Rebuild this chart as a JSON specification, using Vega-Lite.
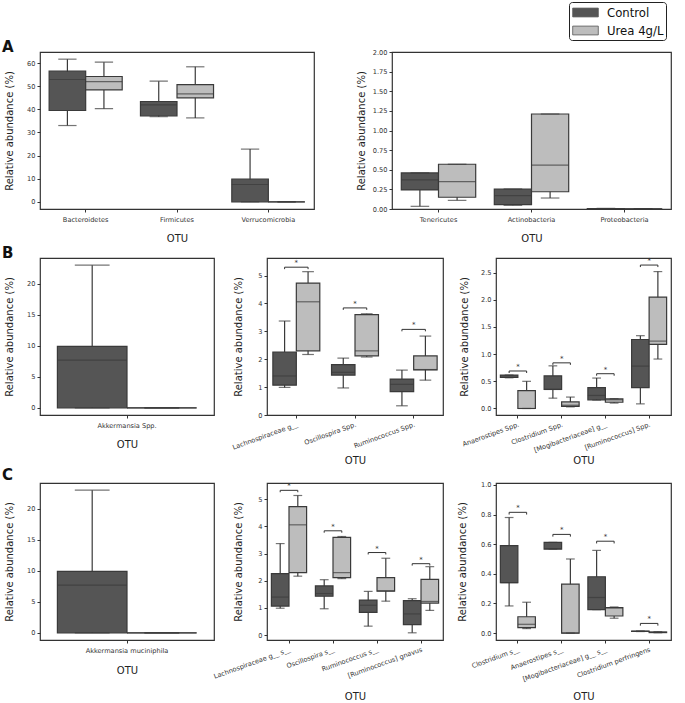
{
"$schema":"https://vega.github.io/schema/vega-lite/v6.json",
"padding":{"left":1,"top":1,"right":2,"bottom":2},
"background":"white",
"config":{
 "font":"DejaVu Sans",
 "view":{"stroke":"#333333","strokeWidth":1.2},
 "axis":{"domain":false,"grid":false,"labelOverlap":false,"tickSize":3,"tickColor":"#333333","tickWidth":1,"labelFont":"DejaVu Sans","labelFontSize":6.6,"labelColor":"#333333","labelPadding":2,"titleFont":"DejaVu Sans","titleFontSize":10,"titleFontWeight":"normal","titleColor":"#222222"},
 "legend":{"orient":"none","legendX":529,"legendY":-50,"strokeColor":"#222222","cornerRadius":3,"padding":2,"fillColor":"white","labelFont":"DejaVu Sans","labelFontSize":11.7,"labelColor":"#111111","symbolType":"M-1.6,-0.55H1.6V0.55H-1.6Z","symbolSize":256,"symbolOffset":6,"symbolStrokeWidth":0.8,"symbolStrokeColor":"#555555","rowPadding":2,"labelOffset":13},
 "title":{"anchor":"start","frame":"group","fontSize":15,"fontWeight":"bold","font":"DejaVu Sans","baseline":"alphabetic","offset":0,"dx":-38,"dy":7,"color":"#111111"}
},
"datasets":{
 "boxes":[
  {"p":"A1","otu":"Bacteroidetes","g":"Control","lo":33.0,"q1":39.5,"md":52.9,"q3":56.5,"hi":61.7},
  {"p":"A1","otu":"Bacteroidetes","g":"Urea 4g/L","lo":40.3,"q1":48.4,"md":52.0,"q3":54.2,"hi":60.4},
  {"p":"A1","otu":"Firmicutes","g":"Control","lo":36.8,"q1":37.2,"md":41.9,"q3":43.4,"hi":52.2},
  {"p":"A1","otu":"Firmicutes","g":"Urea 4g/L","lo":36.3,"q1":45.0,"md":46.7,"q3":50.7,"hi":58.4},
  {"p":"A1","otu":"Verrucomicrobia","g":"Control","lo":0,"q1":0,"md":7.5,"q3":9.8,"hi":22.8},
  {"p":"A1","otu":"Verrucomicrobia","g":"Urea 4g/L","lo":0,"q1":0,"md":0,"q3":0,"hi":0},
  {"p":"A2","otu":"Tenericutes","g":"Control","lo":0.034,"q1":0.243,"md":0.37,"q3":0.46,"hi":0.46},
  {"p":"A2","otu":"Tenericutes","g":"Urea 4g/L","lo":0.11,"q1":0.15,"md":0.35,"q3":0.57,"hi":0.57},
  {"p":"A2","otu":"Actinobacteria","g":"Control","lo":0.047,"q1":0.055,"md":0.17,"q3":0.255,"hi":0.255},
  {"p":"A2","otu":"Actinobacteria","g":"Urea 4g/L","lo":0.14,"q1":0.22,"md":0.56,"q3":1.21,"hi":1.21},
  {"p":"A2","otu":"Proteobacteria","g":"Control","lo":0.002,"q1":0.003,"md":0.004,"q3":0.006,"hi":0.008},
  {"p":"A2","otu":"Proteobacteria","g":"Urea 4g/L","lo":0.001,"q1":0.001,"md":0.002,"q3":0.003,"hi":0.004},
  {"p":"B1","otu":"Akkermansia Spp.","g":"Control","lo":0,"q1":0,"md":7.7,"q3":9.9,"hi":23.0},
  {"p":"B1","otu":"Akkermansia Spp.","g":"Urea 4g/L","lo":0,"q1":0,"md":0,"q3":0,"hi":0},
  {"p":"B2","otu":"Lachnospiraceae g__","g":"Control","lo":0.99,"q1":1.07,"md":1.40,"q3":2.26,"hi":3.37},
  {"p":"B2","otu":"Lachnospiraceae g__","g":"Urea 4g/L","lo":2.17,"q1":2.30,"md":4.06,"q3":4.73,"hi":5.14},
  {"p":"B2","otu":"Oscillospira Spp.","g":"Control","lo":0.97,"q1":1.43,"md":1.53,"q3":1.81,"hi":2.04},
  {"p":"B2","otu":"Oscillospira Spp.","g":"Urea 4g/L","lo":2.08,"q1":2.12,"md":2.30,"q3":3.60,"hi":3.63},
  {"p":"B2","otu":"Ruminococcus Spp.","g":"Control","lo":0.33,"q1":0.835,"md":1.1,"q3":1.29,"hi":1.61},
  {"p":"B2","otu":"Ruminococcus Spp.","g":"Urea 4g/L","lo":1.25,"q1":1.62,"md":1.63,"q3":2.12,"hi":2.83},
  {"p":"B3","otu":"Anaerostipes Spp.","g":"Control","lo":0.565,"q1":0.57,"md":0.575,"q3":0.615,"hi":0.615},
  {"p":"B3","otu":"Anaerostipes Spp.","g":"Urea 4g/L","lo":0,"q1":0,"md":0,"q3":0.33,"hi":0.50},
  {"p":"B3","otu":"Clostridium Spp.","g":"Control","lo":0.19,"q1":0.35,"md":0.35,"q3":0.60,"hi":0.785},
  {"p":"B3","otu":"Clostridium Spp.","g":"Urea 4g/L","lo":0.03,"q1":0.04,"md":0.06,"q3":0.12,"hi":0.21},
  {"p":"B3","otu":"[Mogibacteriaceae] g__","g":"Control","lo":0.155,"q1":0.16,"md":0.24,"q3":0.385,"hi":0.56},
  {"p":"B3","otu":"[Mogibacteriaceae] g__","g":"Urea 4g/L","lo":0.10,"q1":0.115,"md":0.16,"q3":0.175,"hi":0.18},
  {"p":"B3","otu":"[Ruminococcus] Spp.","g":"Control","lo":0.085,"q1":0.385,"md":0.78,"q3":1.27,"hi":1.34},
  {"p":"B3","otu":"[Ruminococcus] Spp.","g":"Urea 4g/L","lo":0.91,"q1":1.18,"md":1.24,"q3":2.05,"hi":2.52},
  {"p":"C1","otu":"Akkermansia muciniphila","g":"Control","lo":0,"q1":0,"md":7.7,"q3":9.9,"hi":23.0},
  {"p":"C1","otu":"Akkermansia muciniphila","g":"Urea 4g/L","lo":0,"q1":0,"md":0,"q3":0,"hi":0},
  {"p":"C2","otu":"Lachnospiraceae g__ s__","g":"Control","lo":0.99,"q1":1.07,"md":1.40,"q3":2.26,"hi":3.37},
  {"p":"C2","otu":"Lachnospiraceae g__ s__","g":"Urea 4g/L","lo":2.17,"q1":2.30,"md":4.06,"q3":4.73,"hi":5.14},
  {"p":"C2","otu":"Oscillospira s__","g":"Control","lo":0.97,"q1":1.43,"md":1.53,"q3":1.81,"hi":2.04},
  {"p":"C2","otu":"Oscillospira s__","g":"Urea 4g/L","lo":2.08,"q1":2.12,"md":2.30,"q3":3.60,"hi":3.63},
  {"p":"C2","otu":"Ruminococcus s__","g":"Control","lo":0.33,"q1":0.835,"md":1.1,"q3":1.29,"hi":1.61},
  {"p":"C2","otu":"Ruminococcus s__","g":"Urea 4g/L","lo":1.25,"q1":1.62,"md":1.63,"q3":2.12,"hi":2.83},
  {"p":"C2","otu":"[Ruminococcus] gnavus","g":"Control","lo":0.085,"q1":0.385,"md":0.78,"q3":1.27,"hi":1.34},
  {"p":"C2","otu":"[Ruminococcus] gnavus","g":"Urea 4g/L","lo":0.91,"q1":1.18,"md":1.24,"q3":2.05,"hi":2.52},
  {"p":"C3","otu":"Clostridium s__","g":"Control","lo":0.183,"q1":0.34,"md":0.34,"q3":0.59,"hi":0.78},
  {"p":"C3","otu":"Clostridium s__","g":"Urea 4g/L","lo":0.03,"q1":0.036,"md":0.059,"q3":0.11,"hi":0.208},
  {"p":"C3","otu":"Anaerostipes s__","g":"Control","lo":0.567,"q1":0.567,"md":0.57,"q3":0.612,"hi":0.612},
  {"p":"C3","otu":"Anaerostipes s__","g":"Urea 4g/L","lo":0,"q1":0,"md":0,"q3":0.33,"hi":0.50},
  {"p":"C3","otu":"[Mogibacteriaceae] g__ s__","g":"Control","lo":0.158,"q1":0.158,"md":0.24,"q3":0.38,"hi":0.558},
  {"p":"C3","otu":"[Mogibacteriaceae] g__ s__","g":"Urea 4g/L","lo":0.10,"q1":0.115,"md":0.17,"q3":0.172,"hi":0.176},
  {"p":"C3","otu":"Clostridium perfringens","g":"Control","lo":0.010,"q1":0.011,"md":0.012,"q3":0.013,"hi":0.014},
  {"p":"C3","otu":"Clostridium perfringens","g":"Urea 4g/L","lo":0.002,"q1":0.003,"md":0.005,"q3":0.007,"hi":0.009}
 ],
 "sig":[
  {"p":"B2","otu":"Lachnospiraceae g__","g":"Control","y":5.23,"o":1},
  {"p":"B2","otu":"Lachnospiraceae g__","g":"Control","y":5.3,"o":2},
  {"p":"B2","otu":"Lachnospiraceae g__","g":"Urea 4g/L","y":5.3,"o":3},
  {"p":"B2","otu":"Lachnospiraceae g__","g":"Urea 4g/L","y":5.23,"o":4},
  {"p":"B2","otu":"Oscillospira Spp.","g":"Control","y":3.77,"o":1},
  {"p":"B2","otu":"Oscillospira Spp.","g":"Control","y":3.84,"o":2},
  {"p":"B2","otu":"Oscillospira Spp.","g":"Urea 4g/L","y":3.84,"o":3},
  {"p":"B2","otu":"Oscillospira Spp.","g":"Urea 4g/L","y":3.77,"o":4},
  {"p":"B2","otu":"Ruminococcus Spp.","g":"Control","y":3.0,"o":1},
  {"p":"B2","otu":"Ruminococcus Spp.","g":"Control","y":3.07,"o":2},
  {"p":"B2","otu":"Ruminococcus Spp.","g":"Urea 4g/L","y":3.07,"o":3},
  {"p":"B2","otu":"Ruminococcus Spp.","g":"Urea 4g/L","y":3.0,"o":4},
  {"p":"B3","otu":"Anaerostipes Spp.","g":"Control","y":0.653,"o":1},
  {"p":"B3","otu":"Anaerostipes Spp.","g":"Control","y":0.69,"o":2},
  {"p":"B3","otu":"Anaerostipes Spp.","g":"Urea 4g/L","y":0.69,"o":3},
  {"p":"B3","otu":"Anaerostipes Spp.","g":"Urea 4g/L","y":0.653,"o":4},
  {"p":"B3","otu":"Clostridium Spp.","g":"Control","y":0.803,"o":1},
  {"p":"B3","otu":"Clostridium Spp.","g":"Control","y":0.84,"o":2},
  {"p":"B3","otu":"Clostridium Spp.","g":"Urea 4g/L","y":0.84,"o":3},
  {"p":"B3","otu":"Clostridium Spp.","g":"Urea 4g/L","y":0.803,"o":4},
  {"p":"B3","otu":"[Mogibacteriaceae] g__","g":"Control","y":0.603,"o":1},
  {"p":"B3","otu":"[Mogibacteriaceae] g__","g":"Control","y":0.64,"o":2},
  {"p":"B3","otu":"[Mogibacteriaceae] g__","g":"Urea 4g/L","y":0.64,"o":3},
  {"p":"B3","otu":"[Mogibacteriaceae] g__","g":"Urea 4g/L","y":0.603,"o":4},
  {"p":"B3","otu":"[Ruminococcus] Spp.","g":"Control","y":2.603,"o":1},
  {"p":"B3","otu":"[Ruminococcus] Spp.","g":"Control","y":2.64,"o":2},
  {"p":"B3","otu":"[Ruminococcus] Spp.","g":"Urea 4g/L","y":2.64,"o":3},
  {"p":"B3","otu":"[Ruminococcus] Spp.","g":"Urea 4g/L","y":2.603,"o":4},
  {"p":"C2","otu":"Lachnospiraceae g__ s__","g":"Control","y":5.26,"o":1},
  {"p":"C2","otu":"Lachnospiraceae g__ s__","g":"Control","y":5.33,"o":2},
  {"p":"C2","otu":"Lachnospiraceae g__ s__","g":"Urea 4g/L","y":5.33,"o":3},
  {"p":"C2","otu":"Lachnospiraceae g__ s__","g":"Urea 4g/L","y":5.26,"o":4},
  {"p":"C2","otu":"Oscillospira s__","g":"Control","y":3.77,"o":1},
  {"p":"C2","otu":"Oscillospira s__","g":"Control","y":3.84,"o":2},
  {"p":"C2","otu":"Oscillospira s__","g":"Urea 4g/L","y":3.84,"o":3},
  {"p":"C2","otu":"Oscillospira s__","g":"Urea 4g/L","y":3.77,"o":4},
  {"p":"C2","otu":"Ruminococcus s__","g":"Control","y":2.97,"o":1},
  {"p":"C2","otu":"Ruminococcus s__","g":"Control","y":3.04,"o":2},
  {"p":"C2","otu":"Ruminococcus s__","g":"Urea 4g/L","y":3.04,"o":3},
  {"p":"C2","otu":"Ruminococcus s__","g":"Urea 4g/L","y":2.97,"o":4},
  {"p":"C2","otu":"[Ruminococcus] gnavus","g":"Control","y":2.56,"o":1},
  {"p":"C2","otu":"[Ruminococcus] gnavus","g":"Control","y":2.63,"o":2},
  {"p":"C2","otu":"[Ruminococcus] gnavus","g":"Urea 4g/L","y":2.63,"o":3},
  {"p":"C2","otu":"[Ruminococcus] gnavus","g":"Urea 4g/L","y":2.56,"o":4},
  {"p":"C3","otu":"Clostridium s__","g":"Control","y":0.8,"o":1},
  {"p":"C3","otu":"Clostridium s__","g":"Control","y":0.815,"o":2},
  {"p":"C3","otu":"Clostridium s__","g":"Urea 4g/L","y":0.815,"o":3},
  {"p":"C3","otu":"Clostridium s__","g":"Urea 4g/L","y":0.8,"o":4},
  {"p":"C3","otu":"Anaerostipes s__","g":"Control","y":0.651,"o":1},
  {"p":"C3","otu":"Anaerostipes s__","g":"Control","y":0.666,"o":2},
  {"p":"C3","otu":"Anaerostipes s__","g":"Urea 4g/L","y":0.666,"o":3},
  {"p":"C3","otu":"Anaerostipes s__","g":"Urea 4g/L","y":0.651,"o":4},
  {"p":"C3","otu":"[Mogibacteriaceae] g__ s__","g":"Control","y":0.605,"o":1},
  {"p":"C3","otu":"[Mogibacteriaceae] g__ s__","g":"Control","y":0.62,"o":2},
  {"p":"C3","otu":"[Mogibacteriaceae] g__ s__","g":"Urea 4g/L","y":0.62,"o":3},
  {"p":"C3","otu":"[Mogibacteriaceae] g__ s__","g":"Urea 4g/L","y":0.605,"o":4},
  {"p":"C3","otu":"Clostridium perfringens","g":"Control","y":0.05,"o":1},
  {"p":"C3","otu":"Clostridium perfringens","g":"Control","y":0.065,"o":2},
  {"p":"C3","otu":"Clostridium perfringens","g":"Urea 4g/L","y":0.065,"o":3},
  {"p":"C3","otu":"Clostridium perfringens","g":"Urea 4g/L","y":0.05,"o":4}
 ]
},
"resolve":{"scale":{"fill":"shared","x":"independent","y":"independent","xOffset":"independent"},"legend":{"fill":"shared"}},
"vconcat":[
 {"resolve":{"scale":{"fill":"shared","x":"independent","y":"independent","xOffset":"independent"},"legend":{"fill":"shared"}},
  "hconcat":[
  {"width":274,"height":157,"title":{"text":"A"},
   "layer":[
    {"data":{"name":"boxes"},"transform":[{"filter":"datum.p=='A1'"}],"mark":{"type":"rule","strokeWidth":1.2,"color":"#3a3a3a"},
     "encoding":{"x":{"field":"otu","type":"nominal","scale":{"domain":["Bacteroidetes","Firmicutes","Verrucomicrobia"],"paddingInner":0,"paddingOuter":0},"title":"OTU","axis":{"labelAngle":0,"labelPadding":4,"titlePadding":11}},
      "xOffset":{"field":"g","type":"nominal","scale":{"domain":["Control","Urea 4g/L"],"paddingInner":0,"paddingOuter":0.25}},
      "y":{"field":"lo","type":"quantitative","scale":{"domain":[-3.1,64.8],"nice":false,"zero":false},"title":"Relative abundance (%)","axis":{"values":[0,10,20,30,40,50,60],"titlePadding":12}},
      "y2":{"field":"hi"}}},
    {"data":{"name":"boxes"},"transform":[{"filter":"datum.p=='A1'"}],"mark":{"type":"bar","strokeWidth":1.2,"stroke":"#3a3a3a"},
     "encoding":{"x":{"field":"otu","type":"nominal"},"xOffset":{"field":"g","type":"nominal"},
      "y":{"field":"q1","type":"quantitative","title":"Relative abundance (%)","axis":{"values":[0,10,20,30,40,50,60],"titlePadding":12}},"y2":{"field":"q3"},
      "fill":{"field":"g","type":"nominal","scale":{"domain":["Control","Urea 4g/L"],"range":["#555555","#bdbdbd"]},"title":null}}},
    {"data":{"name":"boxes"},"transform":[{"filter":"datum.p=='A1'"}],"mark":{"type":"tick","thickness":1.2,"size":36.5,"color":"#3a3a3a"},
     "encoding":{"x":{"field":"otu","type":"nominal"},"xOffset":{"field":"g","type":"nominal"},"y":{"field":"md","type":"quantitative","title":"Relative abundance (%)","axis":{"values":[0,10,20,30,40,50,60],"titlePadding":12}}}},
    {"data":{"name":"boxes"},"transform":[{"filter":"datum.p=='A1'"}],"mark":{"type":"tick","thickness":1.2,"size":18.3,"color":"#3a3a3a"},
     "encoding":{"x":{"field":"otu","type":"nominal"},"xOffset":{"field":"g","type":"nominal"},"y":{"field":"hi","type":"quantitative","title":"Relative abundance (%)","axis":{"values":[0,10,20,30,40,50,60],"titlePadding":12}}}},
    {"data":{"name":"boxes"},"transform":[{"filter":"datum.p=='A1'"}],"mark":{"type":"tick","thickness":1.2,"size":18.3,"color":"#3a3a3a"},
     "encoding":{"x":{"field":"otu","type":"nominal"},"xOffset":{"field":"g","type":"nominal"},"y":{"field":"lo","type":"quantitative","title":"Relative abundance (%)","axis":{"values":[0,10,20,30,40,50,60],"titlePadding":12}}}}
   ]},
  {"width":279,"height":157,
   "layer":[
    {"data":{"name":"boxes"},"transform":[{"filter":"datum.p=='A2'"}],"mark":{"type":"rule","strokeWidth":1.2,"color":"#3a3a3a"},
     "encoding":{"x":{"field":"otu","type":"nominal","scale":{"domain":["Tenericutes","Actinobacteria","Proteobacteria"],"paddingInner":0,"paddingOuter":0},"title":"OTU","axis":{"labelAngle":0,"labelPadding":4,"titlePadding":11}},
      "xOffset":{"field":"g","type":"nominal","scale":{"domain":["Control","Urea 4g/L"],"paddingInner":0,"paddingOuter":0.25}},
      "y":{"field":"lo","type":"quantitative","scale":{"domain":[0,2],"nice":false,"zero":false},"title":"Relative abundance (%)","axis":{"values":[0,0.25,0.5,0.75,1,1.25,1.5,1.75,2],"format":".2f","titlePadding":6}},
      "y2":{"field":"hi"}}},
    {"data":{"name":"boxes"},"transform":[{"filter":"datum.p=='A2'"}],"mark":{"type":"bar","strokeWidth":1.2,"stroke":"#3a3a3a"},
     "encoding":{"x":{"field":"otu","type":"nominal"},"xOffset":{"field":"g","type":"nominal"},
      "y":{"field":"q1","type":"quantitative","title":"Relative abundance (%)","axis":{"values":[0,0.25,0.5,0.75,1,1.25,1.5,1.75,2],"format":".2f","titlePadding":6}},"y2":{"field":"q3"},
      "fill":{"field":"g","type":"nominal","scale":{"domain":["Control","Urea 4g/L"],"range":["#555555","#bdbdbd"]},"title":null}}},
    {"data":{"name":"boxes"},"transform":[{"filter":"datum.p=='A2'"}],"mark":{"type":"tick","thickness":1.2,"size":37.2,"color":"#3a3a3a"},
     "encoding":{"x":{"field":"otu","type":"nominal"},"xOffset":{"field":"g","type":"nominal"},"y":{"field":"md","type":"quantitative","title":"Relative abundance (%)","axis":{"values":[0,0.25,0.5,0.75,1,1.25,1.5,1.75,2],"format":".2f","titlePadding":6}}}},
    {"data":{"name":"boxes"},"transform":[{"filter":"datum.p=='A2'"}],"mark":{"type":"tick","thickness":1.2,"size":18.6,"color":"#3a3a3a"},
     "encoding":{"x":{"field":"otu","type":"nominal"},"xOffset":{"field":"g","type":"nominal"},"y":{"field":"hi","type":"quantitative","title":"Relative abundance (%)","axis":{"values":[0,0.25,0.5,0.75,1,1.25,1.5,1.75,2],"format":".2f","titlePadding":6}}}},
    {"data":{"name":"boxes"},"transform":[{"filter":"datum.p=='A2'"}],"mark":{"type":"tick","thickness":1.2,"size":18.6,"color":"#3a3a3a"},
     "encoding":{"x":{"field":"otu","type":"nominal"},"xOffset":{"field":"g","type":"nominal"},"y":{"field":"lo","type":"quantitative","title":"Relative abundance (%)","axis":{"values":[0,0.25,0.5,0.75,1,1.25,1.5,1.75,2],"format":".2f","titlePadding":6}}}}
   ]}
 ],"spacing":78,"bounds":"flush"},
 {"resolve":{"scale":{"fill":"shared","x":"independent","y":"independent","xOffset":"independent"},"legend":{"fill":"shared"}},
  "hconcat":[
  {"width":174,"height":157,"title":{"text":"B"},
   "layer":[
    {"data":{"name":"boxes"},"transform":[{"filter":"datum.p=='B1'"}],"mark":{"type":"rule","strokeWidth":1.2,"color":"#3a3a3a"},
     "encoding":{"x":{"field":"otu","type":"nominal","scale":{"domain":["Akkermansia Spp."],"paddingInner":0,"paddingOuter":0},"title":"OTU","axis":{"labelAngle":0,"labelPadding":4,"titlePadding":11}},
      "xOffset":{"field":"g","type":"nominal","scale":{"domain":["Control","Urea 4g/L"],"paddingInner":0,"paddingOuter":0.25}},
      "y":{"field":"lo","type":"quantitative","scale":{"domain":[-1.15,24.15],"nice":false,"zero":false},"title":"Relative abundance (%)","axis":{"values":[0,5,10,15,20],"titlePadding":12}},
      "y2":{"field":"hi"}}},
    {"data":{"name":"boxes"},"transform":[{"filter":"datum.p=='B1'"}],"mark":{"type":"bar","strokeWidth":1.2,"stroke":"#3a3a3a"},
     "encoding":{"x":{"field":"otu","type":"nominal"},"xOffset":{"field":"g","type":"nominal"},
      "y":{"field":"q1","type":"quantitative","title":"Relative abundance (%)","axis":{"values":[0,5,10,15,20],"titlePadding":12}},"y2":{"field":"q3"},
      "fill":{"field":"g","type":"nominal","scale":{"domain":["Control","Urea 4g/L"],"range":["#555555","#bdbdbd"]},"title":null}}},
    {"data":{"name":"boxes"},"transform":[{"filter":"datum.p=='B1'"}],"mark":{"type":"tick","thickness":1.2,"size":69.6,"color":"#3a3a3a"},
     "encoding":{"x":{"field":"otu","type":"nominal"},"xOffset":{"field":"g","type":"nominal"},"y":{"field":"md","type":"quantitative","title":"Relative abundance (%)","axis":{"values":[0,5,10,15,20],"titlePadding":12}}}},
    {"data":{"name":"boxes"},"transform":[{"filter":"datum.p=='B1'"}],"mark":{"type":"tick","thickness":1.2,"size":34.8,"color":"#3a3a3a"},
     "encoding":{"x":{"field":"otu","type":"nominal"},"xOffset":{"field":"g","type":"nominal"},"y":{"field":"hi","type":"quantitative","title":"Relative abundance (%)","axis":{"values":[0,5,10,15,20],"titlePadding":12}}}},
    {"data":{"name":"boxes"},"transform":[{"filter":"datum.p=='B1'"}],"mark":{"type":"tick","thickness":1.2,"size":34.8,"color":"#3a3a3a"},
     "encoding":{"x":{"field":"otu","type":"nominal"},"xOffset":{"field":"g","type":"nominal"},"y":{"field":"lo","type":"quantitative","title":"Relative abundance (%)","axis":{"values":[0,5,10,15,20],"titlePadding":12}}}}
   ]},
  {"width":176,"height":157,
   "layer":[
    {"data":{"name":"boxes"},"transform":[{"filter":"datum.p=='B2'"}],"mark":{"type":"rule","strokeWidth":1.2,"color":"#3a3a3a"},
     "encoding":{"x":{"field":"otu","type":"nominal","scale":{"domain":["Lachnospiraceae g__","Oscillospira Spp.","Ruminococcus Spp."],"paddingInner":0,"paddingOuter":0},"title":"OTU","axis":{"labelAngle":-20,"labelAlign":"right","labelBaseline":"top","labelPadding":3,"titlePadding":5}},
      "xOffset":{"field":"g","type":"nominal","scale":{"domain":["Control","Urea 4g/L"],"paddingInner":0,"paddingOuter":0.25}},
      "y":{"field":"lo","type":"quantitative","scale":{"domain":[0,5.63],"nice":false,"zero":false},"title":"Relative abundance (%)","axis":{"values":[0,1,2,3,4,5],"titlePadding":14}},
      "y2":{"field":"hi"}}},
    {"data":{"name":"boxes"},"transform":[{"filter":"datum.p=='B2'"}],"mark":{"type":"bar","strokeWidth":1.2,"stroke":"#3a3a3a"},
     "encoding":{"x":{"field":"otu","type":"nominal"},"xOffset":{"field":"g","type":"nominal"},
      "y":{"field":"q1","type":"quantitative","title":"Relative abundance (%)","axis":{"values":[0,1,2,3,4,5],"titlePadding":14}},"y2":{"field":"q3"},
      "fill":{"field":"g","type":"nominal","scale":{"domain":["Control","Urea 4g/L"],"range":["#555555","#bdbdbd"]},"title":null}}},
    {"data":{"name":"boxes"},"transform":[{"filter":"datum.p=='B2'"}],"mark":{"type":"tick","thickness":1.2,"size":23.5,"color":"#3a3a3a"},
     "encoding":{"x":{"field":"otu","type":"nominal"},"xOffset":{"field":"g","type":"nominal"},"y":{"field":"md","type":"quantitative","title":"Relative abundance (%)","axis":{"values":[0,1,2,3,4,5],"titlePadding":14}}}},
    {"data":{"name":"boxes"},"transform":[{"filter":"datum.p=='B2'"}],"mark":{"type":"tick","thickness":1.2,"size":11.7,"color":"#3a3a3a"},
     "encoding":{"x":{"field":"otu","type":"nominal"},"xOffset":{"field":"g","type":"nominal"},"y":{"field":"hi","type":"quantitative","title":"Relative abundance (%)","axis":{"values":[0,1,2,3,4,5],"titlePadding":14}}}},
    {"data":{"name":"boxes"},"transform":[{"filter":"datum.p=='B2'"}],"mark":{"type":"tick","thickness":1.2,"size":11.7,"color":"#3a3a3a"},
     "encoding":{"x":{"field":"otu","type":"nominal"},"xOffset":{"field":"g","type":"nominal"},"y":{"field":"lo","type":"quantitative","title":"Relative abundance (%)","axis":{"values":[0,1,2,3,4,5],"titlePadding":14}}}},
    {"data":{"name":"sig"},"transform":[{"filter":"datum.p=='B2'"}],"mark":{"type":"line","strokeWidth":1,"color":"#333333"},
     "encoding":{"x":{"field":"otu","type":"nominal"},"xOffset":{"field":"g","type":"nominal"},"y":{"field":"y","type":"quantitative","title":"Relative abundance (%)","axis":{"values":[0,1,2,3,4,5],"titlePadding":14}},"detail":{"field":"otu"},"order":{"field":"o"}}},
    {"data":{"name":"sig"},"transform":[{"filter":"datum.p=='B2' && datum.o==2"}],"mark":{"type":"text","text":"*","dy":-4,"dx":11.7,"fontSize":7,"color":"#333333"},
     "encoding":{"x":{"field":"otu","type":"nominal"},"xOffset":{"field":"g","type":"nominal"},"y":{"field":"y","type":"quantitative","title":"Relative abundance (%)","axis":{"values":[0,1,2,3,4,5],"titlePadding":14}}}}
   ]},
  {"width":175,"height":157,
   "layer":[
    {"data":{"name":"boxes"},"transform":[{"filter":"datum.p=='B3'"}],"mark":{"type":"rule","strokeWidth":1.2,"color":"#3a3a3a"},
     "encoding":{"x":{"field":"otu","type":"nominal","scale":{"domain":["Anaerostipes Spp.","Clostridium Spp.","[Mogibacteriaceae] g__","[Ruminococcus] Spp."],"paddingInner":0,"paddingOuter":0},"title":"OTU","axis":{"labelAngle":-20,"labelAlign":"right","labelBaseline":"top","labelPadding":3,"titlePadding":2}},
      "xOffset":{"field":"g","type":"nominal","scale":{"domain":["Control","Urea 4g/L"],"paddingInner":0,"paddingOuter":0.25}},
      "y":{"field":"lo","type":"quantitative","scale":{"domain":[-0.12,2.77],"nice":false,"zero":false},"title":"Relative abundance (%)","axis":{"values":[0,0.5,1,1.5,2,2.5],"format":".1f","titlePadding":11}},
      "y2":{"field":"hi"}}},
    {"data":{"name":"boxes"},"transform":[{"filter":"datum.p=='B3'"}],"mark":{"type":"bar","strokeWidth":1.2,"stroke":"#3a3a3a"},
     "encoding":{"x":{"field":"otu","type":"nominal"},"xOffset":{"field":"g","type":"nominal"},
      "y":{"field":"q1","type":"quantitative","title":"Relative abundance (%)","axis":{"values":[0,0.5,1,1.5,2,2.5],"format":".1f","titlePadding":11}},"y2":{"field":"q3"},
      "fill":{"field":"g","type":"nominal","scale":{"domain":["Control","Urea 4g/L"],"range":["#555555","#bdbdbd"]},"title":null}}},
    {"data":{"name":"boxes"},"transform":[{"filter":"datum.p=='B3'"}],"mark":{"type":"tick","thickness":1.2,"size":17.5,"color":"#3a3a3a"},
     "encoding":{"x":{"field":"otu","type":"nominal"},"xOffset":{"field":"g","type":"nominal"},"y":{"field":"md","type":"quantitative","title":"Relative abundance (%)","axis":{"values":[0,0.5,1,1.5,2,2.5],"format":".1f","titlePadding":11}}}},
    {"data":{"name":"boxes"},"transform":[{"filter":"datum.p=='B3'"}],"mark":{"type":"tick","thickness":1.2,"size":8.75,"color":"#3a3a3a"},
     "encoding":{"x":{"field":"otu","type":"nominal"},"xOffset":{"field":"g","type":"nominal"},"y":{"field":"hi","type":"quantitative","title":"Relative abundance (%)","axis":{"values":[0,0.5,1,1.5,2,2.5],"format":".1f","titlePadding":11}}}},
    {"data":{"name":"boxes"},"transform":[{"filter":"datum.p=='B3'"}],"mark":{"type":"tick","thickness":1.2,"size":8.75,"color":"#3a3a3a"},
     "encoding":{"x":{"field":"otu","type":"nominal"},"xOffset":{"field":"g","type":"nominal"},"y":{"field":"lo","type":"quantitative","title":"Relative abundance (%)","axis":{"values":[0,0.5,1,1.5,2,2.5],"format":".1f","titlePadding":11}}}},
    {"data":{"name":"sig"},"transform":[{"filter":"datum.p=='B3'"}],"mark":{"type":"line","strokeWidth":1,"color":"#333333"},
     "encoding":{"x":{"field":"otu","type":"nominal"},"xOffset":{"field":"g","type":"nominal"},"y":{"field":"y","type":"quantitative","title":"Relative abundance (%)","axis":{"values":[0,0.5,1,1.5,2,2.5],"format":".1f","titlePadding":11}},"detail":{"field":"otu"},"order":{"field":"o"}}},
    {"data":{"name":"sig"},"transform":[{"filter":"datum.p=='B3' && datum.o==2"}],"mark":{"type":"text","text":"*","dy":-4,"dx":8.75,"fontSize":7,"color":"#333333"},
     "encoding":{"x":{"field":"otu","type":"nominal"},"xOffset":{"field":"g","type":"nominal"},"y":{"field":"y","type":"quantitative","title":"Relative abundance (%)","axis":{"values":[0,0.5,1,1.5,2,2.5],"format":".1f","titlePadding":11}}}}
   ]}
 ],"spacing":53,"bounds":"flush"},
 {"resolve":{"scale":{"fill":"shared","x":"independent","y":"independent","xOffset":"independent"},"legend":{"fill":"shared"}},
  "hconcat":[
  {"width":174,"height":157,"title":{"text":"C","dy":4},
   "layer":[
    {"data":{"name":"boxes"},"transform":[{"filter":"datum.p=='C1'"}],"mark":{"type":"rule","strokeWidth":1.2,"color":"#3a3a3a"},
     "encoding":{"x":{"field":"otu","type":"nominal","scale":{"domain":["Akkermansia muciniphila"],"paddingInner":0,"paddingOuter":0},"title":"OTU","axis":{"labelAngle":0,"labelPadding":4,"titlePadding":12}},
      "xOffset":{"field":"g","type":"nominal","scale":{"domain":["Control","Urea 4g/L"],"paddingInner":0,"paddingOuter":0.25}},
      "y":{"field":"lo","type":"quantitative","scale":{"domain":[-1.15,24.15],"nice":false,"zero":false},"title":"Relative abundance (%)","axis":{"values":[0,5,10,15,20],"titlePadding":12}},
      "y2":{"field":"hi"}}},
    {"data":{"name":"boxes"},"transform":[{"filter":"datum.p=='C1'"}],"mark":{"type":"bar","strokeWidth":1.2,"stroke":"#3a3a3a"},
     "encoding":{"x":{"field":"otu","type":"nominal"},"xOffset":{"field":"g","type":"nominal"},
      "y":{"field":"q1","type":"quantitative","title":"Relative abundance (%)","axis":{"values":[0,5,10,15,20],"titlePadding":12}},"y2":{"field":"q3"},
      "fill":{"field":"g","type":"nominal","scale":{"domain":["Control","Urea 4g/L"],"range":["#555555","#bdbdbd"]},"title":null}}},
    {"data":{"name":"boxes"},"transform":[{"filter":"datum.p=='C1'"}],"mark":{"type":"tick","thickness":1.2,"size":69.6,"color":"#3a3a3a"},
     "encoding":{"x":{"field":"otu","type":"nominal"},"xOffset":{"field":"g","type":"nominal"},"y":{"field":"md","type":"quantitative","title":"Relative abundance (%)","axis":{"values":[0,5,10,15,20],"titlePadding":12}}}},
    {"data":{"name":"boxes"},"transform":[{"filter":"datum.p=='C1'"}],"mark":{"type":"tick","thickness":1.2,"size":34.8,"color":"#3a3a3a"},
     "encoding":{"x":{"field":"otu","type":"nominal"},"xOffset":{"field":"g","type":"nominal"},"y":{"field":"hi","type":"quantitative","title":"Relative abundance (%)","axis":{"values":[0,5,10,15,20],"titlePadding":12}}}},
    {"data":{"name":"boxes"},"transform":[{"filter":"datum.p=='C1'"}],"mark":{"type":"tick","thickness":1.2,"size":34.8,"color":"#3a3a3a"},
     "encoding":{"x":{"field":"otu","type":"nominal"},"xOffset":{"field":"g","type":"nominal"},"y":{"field":"lo","type":"quantitative","title":"Relative abundance (%)","axis":{"values":[0,5,10,15,20],"titlePadding":12}}}}
   ]},
  {"width":176,"height":157,
   "layer":[
    {"data":{"name":"boxes"},"transform":[{"filter":"datum.p=='C2'"}],"mark":{"type":"rule","strokeWidth":1.2,"color":"#3a3a3a"},
     "encoding":{"x":{"field":"otu","type":"nominal","scale":{"domain":["Lachnospiraceae g__ s__","Oscillospira s__","Ruminococcus s__","[Ruminococcus] gnavus"],"paddingInner":0,"paddingOuter":0},"title":"OTU","axis":{"labelAngle":-20,"labelAlign":"right","labelBaseline":"top","labelPadding":3,"titlePadding":12}},
      "xOffset":{"field":"g","type":"nominal","scale":{"domain":["Control","Urea 4g/L"],"paddingInner":0,"paddingOuter":0.25}},
      "y":{"field":"lo","type":"quantitative","scale":{"domain":[-0.18,5.6],"nice":false,"zero":false},"title":"Relative abundance (%)","axis":{"values":[0,1,2,3,4,5],"titlePadding":14}},
      "y2":{"field":"hi"}}},
    {"data":{"name":"boxes"},"transform":[{"filter":"datum.p=='C2'"}],"mark":{"type":"bar","strokeWidth":1.2,"stroke":"#3a3a3a"},
     "encoding":{"x":{"field":"otu","type":"nominal"},"xOffset":{"field":"g","type":"nominal"},
      "y":{"field":"q1","type":"quantitative","title":"Relative abundance (%)","axis":{"values":[0,1,2,3,4,5],"titlePadding":14}},"y2":{"field":"q3"},
      "fill":{"field":"g","type":"nominal","scale":{"domain":["Control","Urea 4g/L"],"range":["#555555","#bdbdbd"]},"title":null}}},
    {"data":{"name":"boxes"},"transform":[{"filter":"datum.p=='C2'"}],"mark":{"type":"tick","thickness":1.2,"size":17.6,"color":"#3a3a3a"},
     "encoding":{"x":{"field":"otu","type":"nominal"},"xOffset":{"field":"g","type":"nominal"},"y":{"field":"md","type":"quantitative","title":"Relative abundance (%)","axis":{"values":[0,1,2,3,4,5],"titlePadding":14}}}},
    {"data":{"name":"boxes"},"transform":[{"filter":"datum.p=='C2'"}],"mark":{"type":"tick","thickness":1.2,"size":8.8,"color":"#3a3a3a"},
     "encoding":{"x":{"field":"otu","type":"nominal"},"xOffset":{"field":"g","type":"nominal"},"y":{"field":"hi","type":"quantitative","title":"Relative abundance (%)","axis":{"values":[0,1,2,3,4,5],"titlePadding":14}}}},
    {"data":{"name":"boxes"},"transform":[{"filter":"datum.p=='C2'"}],"mark":{"type":"tick","thickness":1.2,"size":8.8,"color":"#3a3a3a"},
     "encoding":{"x":{"field":"otu","type":"nominal"},"xOffset":{"field":"g","type":"nominal"},"y":{"field":"lo","type":"quantitative","title":"Relative abundance (%)","axis":{"values":[0,1,2,3,4,5],"titlePadding":14}}}},
    {"data":{"name":"sig"},"transform":[{"filter":"datum.p=='C2'"}],"mark":{"type":"line","strokeWidth":1,"color":"#333333"},
     "encoding":{"x":{"field":"otu","type":"nominal"},"xOffset":{"field":"g","type":"nominal"},"y":{"field":"y","type":"quantitative","title":"Relative abundance (%)","axis":{"values":[0,1,2,3,4,5],"titlePadding":14}},"detail":{"field":"otu"},"order":{"field":"o"}}},
    {"data":{"name":"sig"},"transform":[{"filter":"datum.p=='C2' && datum.o==2"}],"mark":{"type":"text","text":"*","dy":-4,"dx":8.8,"fontSize":7,"color":"#333333"},
     "encoding":{"x":{"field":"otu","type":"nominal"},"xOffset":{"field":"g","type":"nominal"},"y":{"field":"y","type":"quantitative","title":"Relative abundance (%)","axis":{"values":[0,1,2,3,4,5],"titlePadding":14}}}}
   ]},
  {"width":175,"height":157,
   "layer":[
    {"data":{"name":"boxes"},"transform":[{"filter":"datum.p=='C3'"}],"mark":{"type":"rule","strokeWidth":1.2,"color":"#3a3a3a"},
     "encoding":{"x":{"field":"otu","type":"nominal","scale":{"domain":["Clostridium s__","Anaerostipes s__","[Mogibacteriaceae] g__ s__","Clostridium perfringens"],"paddingInner":0,"paddingOuter":0},"title":"OTU","axis":{"labelAngle":-20,"labelAlign":"right","labelBaseline":"top","labelPadding":3,"titlePadding":9}},
      "xOffset":{"field":"g","type":"nominal","scale":{"domain":["Control","Urea 4g/L"],"paddingInner":0,"paddingOuter":0.25}},
      "y":{"field":"lo","type":"quantitative","scale":{"domain":[-0.047,1.013],"nice":false,"zero":false},"title":"Relative abundance (%)","axis":{"values":[0,0.2,0.4,0.6,0.8,1.0],"format":".1f","titlePadding":13}},
      "y2":{"field":"hi"}}},
    {"data":{"name":"boxes"},"transform":[{"filter":"datum.p=='C3'"}],"mark":{"type":"bar","strokeWidth":1.2,"stroke":"#3a3a3a"},
     "encoding":{"x":{"field":"otu","type":"nominal"},"xOffset":{"field":"g","type":"nominal"},
      "y":{"field":"q1","type":"quantitative","title":"Relative abundance (%)","axis":{"values":[0,0.2,0.4,0.6,0.8,1.0],"format":".1f","titlePadding":13}},"y2":{"field":"q3"},
      "fill":{"field":"g","type":"nominal","scale":{"domain":["Control","Urea 4g/L"],"range":["#555555","#bdbdbd"]},"title":null}}},
    {"data":{"name":"boxes"},"transform":[{"filter":"datum.p=='C3'"}],"mark":{"type":"tick","thickness":1.2,"size":17.5,"color":"#3a3a3a"},
     "encoding":{"x":{"field":"otu","type":"nominal"},"xOffset":{"field":"g","type":"nominal"},"y":{"field":"md","type":"quantitative","title":"Relative abundance (%)","axis":{"values":[0,0.2,0.4,0.6,0.8,1.0],"format":".1f","titlePadding":13}}}},
    {"data":{"name":"boxes"},"transform":[{"filter":"datum.p=='C3'"}],"mark":{"type":"tick","thickness":1.2,"size":8.75,"color":"#3a3a3a"},
     "encoding":{"x":{"field":"otu","type":"nominal"},"xOffset":{"field":"g","type":"nominal"},"y":{"field":"hi","type":"quantitative","title":"Relative abundance (%)","axis":{"values":[0,0.2,0.4,0.6,0.8,1.0],"format":".1f","titlePadding":13}}}},
    {"data":{"name":"boxes"},"transform":[{"filter":"datum.p=='C3'"}],"mark":{"type":"tick","thickness":1.2,"size":8.75,"color":"#3a3a3a"},
     "encoding":{"x":{"field":"otu","type":"nominal"},"xOffset":{"field":"g","type":"nominal"},"y":{"field":"lo","type":"quantitative","title":"Relative abundance (%)","axis":{"values":[0,0.2,0.4,0.6,0.8,1.0],"format":".1f","titlePadding":13}}}},
    {"data":{"name":"sig"},"transform":[{"filter":"datum.p=='C3'"}],"mark":{"type":"line","strokeWidth":1,"color":"#333333"},
     "encoding":{"x":{"field":"otu","type":"nominal"},"xOffset":{"field":"g","type":"nominal"},"y":{"field":"y","type":"quantitative","title":"Relative abundance (%)","axis":{"values":[0,0.2,0.4,0.6,0.8,1.0],"format":".1f","titlePadding":13}},"detail":{"field":"otu"},"order":{"field":"o"}}},
    {"data":{"name":"sig"},"transform":[{"filter":"datum.p=='C3' && datum.o==2"}],"mark":{"type":"text","text":"*","dy":-4,"dx":8.75,"fontSize":7,"color":"#333333"},
     "encoding":{"x":{"field":"otu","type":"nominal"},"xOffset":{"field":"g","type":"nominal"},"y":{"field":"y","type":"quantitative","title":"Relative abundance (%)","axis":{"values":[0,0.2,0.4,0.6,0.8,1.0],"format":".1f","titlePadding":13}}}}
   ]}
 ],"spacing":53,"bounds":"flush"}
],
"spacing":0
}
